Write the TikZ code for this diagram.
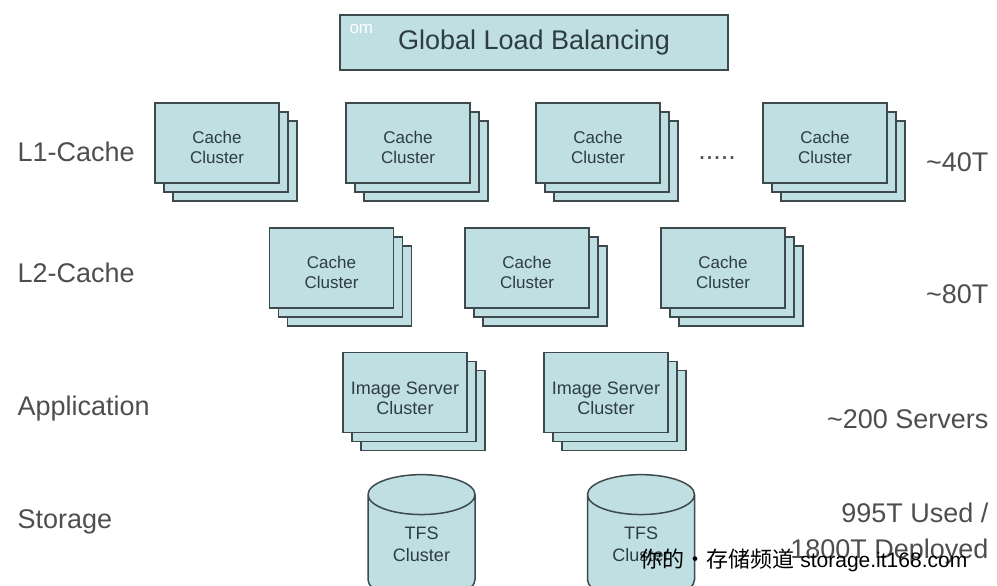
\documentclass[tikz,border=0pt]{standalone}
\usepackage{fontspec}
\setmainfont{Liberation Sans}
\newfontfamily\cjk{Noto Sans CJK SC}
\usepackage{tikz}
\usepackage{xcolor}
\usetikzlibrary{shadows, shapes.geometric}
\definecolor{boxfill}{HTML}{BFDFE2}
\definecolor{boxline}{HTML}{3D4A4D}
\definecolor{boxtext}{HTML}{2E3D42}
\definecolor{lbltext}{HTML}{4E4E4E}

\begin{document}
\begin{tikzpicture}[x=1pt, y=-1pt,
            clus/.style={rectangle, draw=boxline, fill=boxfill, line width=1.5pt,
                minimum width=124pt, minimum height=80pt, inner sep=0pt, align=center,
                text=boxtext, font=\fontsize{17}{20}\selectfont, text height=40.5pt,
                copy shadow={shadow xshift=18pt, shadow yshift=-18pt},
                copy shadow={shadow xshift=9pt, shadow yshift=-9pt}},
            tfs/.style={cylinder, shape border rotate=90, aspect=0.7, draw=boxline,
                fill=boxfill, line width=1.5pt, minimum width=107pt, minimum height=125pt,
                inner sep=0pt, align=center, text=boxtext, font=\fontsize{18}{22}\selectfont,
                text height=29pt},
            lvl/.style={anchor=base west, text=lbltext, font=\fontsize{27}{32}\selectfont},
            amt/.style={anchor=base east, text=lbltext, font=\fontsize{27}{32}\selectfont}]
            \clip (0,0) rectangle (997,586);
            \node[draw=boxline, fill=boxfill, line width=1.8pt, minimum width=388pt,
                minimum height=55pt, text=boxtext, font=\fontsize{27}{32}\selectfont]
                (glb) at (534,42.5) {Global Load Balancing};
            \node[anchor=base west, text=white, font=\fontsize{17}{17}\selectfont] (wmtop) at (346,34) {om};
            % cluster stacks, one row per tier
            \foreach \n/\x in {a/217, b/408, c/598, d/825}
                \node[clus] (l1\n) at (\x,143) {Cache\\Cluster};
            \foreach \n/\x in {a/331.5, b/527, c/723}
                \node[clus] (l2\n) at (\x,268) {Cache\\Cluster};
            \foreach \n/\x in {a/405, b/606}
                \node[clus, font=\fontsize{18}{20}\selectfont, text height=45pt] (app\n) at (\x,392.5) {Image Server\\Cluster};
            \foreach \n/\x in {a/421.5, b/641}
                \node[tfs] (tfs\n) at (\x,547.5) {TFS\\Cluster};
            \node[text=lbltext, font=\fontsize{27}{32}\selectfont] (dots) at (717,158) {.....};
            \node[lvl] (l1lbl) at (14,161) {L1-Cache};
            \node[lvl] (l2lbl) at (14,282) {L2-Cache};
            \node[lvl] (applbl) at (14,415) {Application};
            \node[lvl] (stolbl) at (14,528) {Storage};
            \node[amt] (l1amt) at (992,171) {\textasciitilde 40T};
            \node[amt] (l2amt) at (992,303) {\textasciitilde 80T};
            \node[amt] (appamt) at (992,428) {\textasciitilde 200 Servers};
            \node[amt] (used) at (992,522) {995T Used /};
            \node[amt] (depl) at (992,558) {1800T Deployed};
            \node[anchor=base west, font=\fontsize{21}{21}\selectfont] (wm) at (637,567)
                {{\cjk\fontsize{22}{22}\selectfont 你的•存储频道} storage.it168.com};
        \end{tikzpicture}
\end{document}
